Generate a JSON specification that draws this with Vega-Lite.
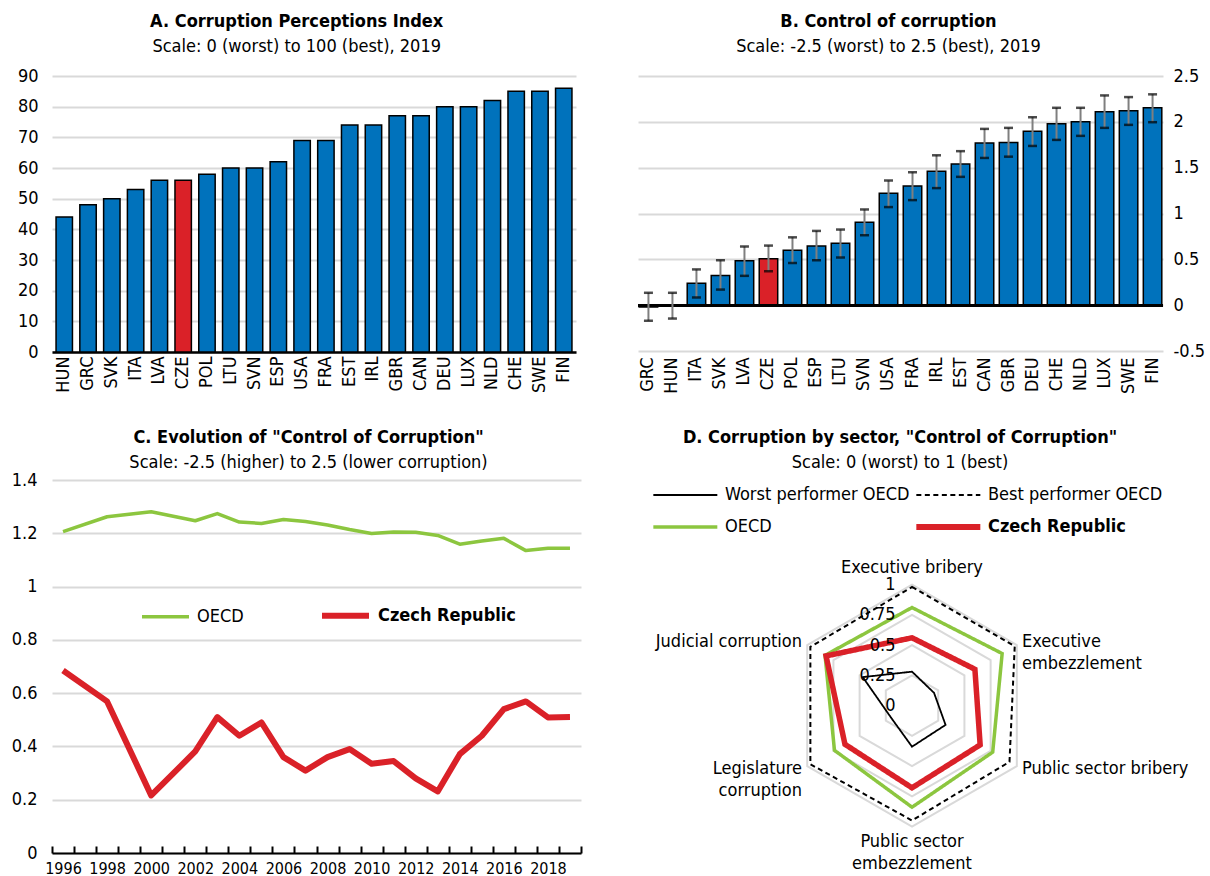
{
 "$schema": "https://vega.github.io/schema/vega-lite/v6.json",
 "background": "white",
 "padding": {"left": 11, "top": 13, "right": 0, "bottom": 0},
 "config": {
  "font": "Liberation Sans Narrow, Arial Narrow, DejaVu Sans Condensed, sans-serif",
  "view": {"stroke": null},
  "axis": {"labelFontSize": 18, "labelColor": "#000000", "gridColor": "#d9d9d9", "gridWidth": 2, "domainColor": "#000000", "tickColor": "#000000"},
  "title": {"fontSize": 18, "fontWeight": "bold", "subtitleFontSize": 18, "color": "#000000", "subtitleColor": "#000000", "anchor": "middle", "subtitlePadding": 7, "offset": 11},
  "legend": {"labelFontSize": 18, "labelColor": "#000000", "padding": 0, "labelLimit": 400},
  "text": {"fontSize": 18}
 },
 "resolve": {
  "scale": {"color": "independent", "strokeWidth": "independent", "strokeDash": "independent"},
  "legend": {"color": "independent", "strokeWidth": "independent", "strokeDash": "independent"}
 },
 "datasets": {
  "cpi": [
   {"country": "HUN", "cpi": 44}, {"country": "GRC", "cpi": 48}, {"country": "SVK", "cpi": 50}, {"country": "ITA", "cpi": 53},
   {"country": "LVA", "cpi": 56}, {"country": "CZE", "cpi": 56}, {"country": "POL", "cpi": 58}, {"country": "LTU", "cpi": 60},
   {"country": "SVN", "cpi": 60}, {"country": "ESP", "cpi": 62}, {"country": "USA", "cpi": 69}, {"country": "FRA", "cpi": 69},
   {"country": "EST", "cpi": 74}, {"country": "IRL", "cpi": 74}, {"country": "GBR", "cpi": 77}, {"country": "CAN", "cpi": 77},
   {"country": "DEU", "cpi": 80}, {"country": "LUX", "cpi": 80}, {"country": "NLD", "cpi": 82}, {"country": "CHE", "cpi": 85},
   {"country": "SWE", "cpi": 85}, {"country": "FIN", "cpi": 86}
  ],
  "wgi": [
   {"country": "GRC", "cc": -0.02, "lo": -0.17, "hi": 0.135},
   {"country": "HUN", "cc": -0.01, "lo": -0.146, "hi": 0.135},
   {"country": "ITA", "cc": 0.24, "lo": 0.084, "hi": 0.39},
   {"country": "SVK", "cc": 0.325, "lo": 0.17, "hi": 0.49},
   {"country": "LVA", "cc": 0.485, "lo": 0.32, "hi": 0.64},
   {"country": "CZE", "cc": 0.507, "lo": 0.37, "hi": 0.65},
   {"country": "POL", "cc": 0.6, "lo": 0.46, "hi": 0.74},
   {"country": "ESP", "cc": 0.646, "lo": 0.49, "hi": 0.81},
   {"country": "LTU", "cc": 0.675, "lo": 0.52, "hi": 0.825},
   {"country": "SVN", "cc": 0.905, "lo": 0.763, "hi": 1.044},
   {"country": "USA", "cc": 1.22, "lo": 1.07, "hi": 1.36},
   {"country": "FRA", "cc": 1.3, "lo": 1.146, "hi": 1.45},
   {"country": "IRL", "cc": 1.46, "lo": 1.277, "hi": 1.635},
   {"country": "EST", "cc": 1.54, "lo": 1.4, "hi": 1.68},
   {"country": "CAN", "cc": 1.77, "lo": 1.606, "hi": 1.923},
   {"country": "GBR", "cc": 1.774, "lo": 1.62, "hi": 1.934},
   {"country": "DEU", "cc": 1.898, "lo": 1.737, "hi": 2.05},
   {"country": "CHE", "cc": 1.978, "lo": 1.803, "hi": 2.153},
   {"country": "NLD", "cc": 2.0, "lo": 1.847, "hi": 2.153},
   {"country": "LUX", "cc": 2.11, "lo": 1.934, "hi": 2.288},
   {"country": "SWE", "cc": 2.12, "lo": 1.967, "hi": 2.27},
   {"country": "FIN", "cc": 2.153, "lo": 1.996, "hi": 2.3}
  ],
  "trend": [
   {"year": 1996, "series": "OECD", "value": 1.206}, {"year": 1998, "series": "OECD", "value": 1.262},
   {"year": 2000, "series": "OECD", "value": 1.281}, {"year": 2002, "series": "OECD", "value": 1.247},
   {"year": 2003, "series": "OECD", "value": 1.274}, {"year": 2004, "series": "OECD", "value": 1.242},
   {"year": 2005, "series": "OECD", "value": 1.237}, {"year": 2006, "series": "OECD", "value": 1.252},
   {"year": 2007, "series": "OECD", "value": 1.244}, {"year": 2008, "series": "OECD", "value": 1.231},
   {"year": 2009, "series": "OECD", "value": 1.214}, {"year": 2010, "series": "OECD", "value": 1.199},
   {"year": 2011, "series": "OECD", "value": 1.205}, {"year": 2012, "series": "OECD", "value": 1.204},
   {"year": 2013, "series": "OECD", "value": 1.192}, {"year": 2014, "series": "OECD", "value": 1.159},
   {"year": 2015, "series": "OECD", "value": 1.171}, {"year": 2016, "series": "OECD", "value": 1.181},
   {"year": 2017, "series": "OECD", "value": 1.135}, {"year": 2018, "series": "OECD", "value": 1.144},
   {"year": 2019, "series": "OECD", "value": 1.144},
   {"year": 1996, "series": "Czech Republic", "value": 0.685}, {"year": 1998, "series": "Czech Republic", "value": 0.569},
   {"year": 2000, "series": "Czech Republic", "value": 0.216}, {"year": 2002, "series": "Czech Republic", "value": 0.381},
   {"year": 2003, "series": "Czech Republic", "value": 0.51}, {"year": 2004, "series": "Czech Republic", "value": 0.44},
   {"year": 2005, "series": "Czech Republic", "value": 0.49}, {"year": 2006, "series": "Czech Republic", "value": 0.36},
   {"year": 2007, "series": "Czech Republic", "value": 0.309}, {"year": 2008, "series": "Czech Republic", "value": 0.36},
   {"year": 2009, "series": "Czech Republic", "value": 0.39}, {"year": 2010, "series": "Czech Republic", "value": 0.335},
   {"year": 2011, "series": "Czech Republic", "value": 0.345}, {"year": 2012, "series": "Czech Republic", "value": 0.28},
   {"year": 2013, "series": "Czech Republic", "value": 0.231}, {"year": 2014, "series": "Czech Republic", "value": 0.371},
   {"year": 2015, "series": "Czech Republic", "value": 0.44}, {"year": 2016, "series": "Czech Republic", "value": 0.54},
   {"year": 2017, "series": "Czech Republic", "value": 0.569}, {"year": 2018, "series": "Czech Republic", "value": 0.509},
   {"year": 2019, "series": "Czech Republic", "value": 0.51}
  ],
  "radar": [
   {"series": "Best performer OECD", "sector": "Executive bribery", "value": 0.98},
   {"series": "Best performer OECD", "sector": "Executive embezzlement", "value": 0.98},
   {"series": "Best performer OECD", "sector": "Public sector bribery", "value": 0.93},
   {"series": "Best performer OECD", "sector": "Public sector embezzlement", "value": 0.95},
   {"series": "Best performer OECD", "sector": "Legislature corruption", "value": 0.97},
   {"series": "Best performer OECD", "sector": "Judicial corruption", "value": 0.97},
   {"series": "Worst performer OECD", "sector": "Executive bribery", "value": 0.28},
   {"series": "Worst performer OECD", "sector": "Executive embezzlement", "value": 0.21},
   {"series": "Worst performer OECD", "sector": "Public sector bribery", "value": 0.32},
   {"series": "Worst performer OECD", "sector": "Public sector embezzlement", "value": 0.34},
   {"series": "Worst performer OECD", "sector": "Legislature corruption", "value": 0.2},
   {"series": "Worst performer OECD", "sector": "Judicial corruption", "value": 0.47},
   {"series": "OECD", "sector": "Executive bribery", "value": 0.81},
   {"series": "OECD", "sector": "Executive embezzlement", "value": 0.86},
   {"series": "OECD", "sector": "Public sector bribery", "value": 0.77},
   {"series": "OECD", "sector": "Public sector embezzlement", "value": 0.84},
   {"series": "OECD", "sector": "Legislature corruption", "value": 0.74},
   {"series": "OECD", "sector": "Judicial corruption", "value": 0.83},
   {"series": "Czech Republic", "sector": "Executive bribery", "value": 0.56},
   {"series": "Czech Republic", "sector": "Executive embezzlement", "value": 0.6},
   {"series": "Czech Republic", "sector": "Public sector bribery", "value": 0.65},
   {"series": "Czech Republic", "sector": "Public sector embezzlement", "value": 0.68},
   {"series": "Czech Republic", "sector": "Legislature corruption", "value": 0.64},
   {"series": "Czech Republic", "sector": "Judicial corruption", "value": 0.82}
  ],
  "rings": [
   {"value": 0.25, "idx": [0, 1, 2, 3, 4, 5]},
   {"value": 0.5, "idx": [0, 1, 2, 3, 4, 5]},
   {"value": 0.75, "idx": [0, 1, 2, 3, 4, 5]},
   {"value": 1, "idx": [0, 1, 2, 3, 4, 5]}
  ],
  "sectors": [
   {"idx": 0, "label": "Executive bribery"},
   {"idx": 1, "label": "Executive\nembezzlement"},
   {"idx": 2, "label": "Public sector bribery"},
   {"idx": 3, "label": "Public sector\nembezzlement"},
   {"idx": 4, "label": "Legislature\ncorruption"},
   {"idx": 5, "label": "Judicial corruption"}
  ]
 },
 "vconcat": [
  {
   "spacing": 60,
   "hconcat": [
    {
     "width": 524, "height": 276,
     "title": {"text": "A. Corruption Perceptions Index", "subtitle": "Scale: 0 (worst) to 100 (best), 2019", "frame": "bounds"},
     "data": {"name": "cpi"},
     "mark": {"type": "bar", "stroke": "#000000", "strokeWidth": 1.5},
     "encoding": {
      "x": {"field": "country", "type": "nominal", "sort": null, "scale": {"paddingInner": 0.31, "paddingOuter": 0.17},
            "axis": {"title": null, "labelAngle": -90, "ticks": false, "domainWidth": 2.5, "labelPadding": 4}},
      "y": {"field": "cpi", "type": "quantitative", "scale": {"domain": [0, 90], "nice": false},
            "axis": {"title": null, "values": [0, 10, 20, 30, 40, 50, 60, 70, 80, 90], "domain": false, "ticks": false, "labelPadding": 14}},
      "color": {"condition": {"test": "datum.country === 'CZE'", "value": "#DA2128"}, "value": "#0072BC"}
     }
    },
    {
     "width": 525, "height": 275,
     "title": {"text": "B. Control of corruption", "subtitle": "Scale: -2.5 (worst) to 2.5 (best), 2019", "frame": "group", "dx": -12},
     "data": {"name": "wgi"},
     "layer": [
      {
       "mark": {"type": "bar", "stroke": "#000000", "strokeWidth": 1.5},
       "encoding": {
        "x": {"field": "country", "type": "nominal", "sort": null, "scale": {"paddingInner": 0.23, "paddingOuter": 0.05},
              "axis": {"title": null, "labelAngle": -90, "ticks": false, "domain": false, "labelPadding": 6}},
        "y": {"field": "cc", "type": "quantitative", "scale": {"domain": [-0.5, 2.5], "nice": false},
              "axis": {"title": null, "orient": "right", "values": [-0.5, 0, 0.5, 1, 1.5, 2, 2.5], "labelExpr": "'' + datum.value", "domain": false, "ticks": false, "labelPadding": 10}},
        "color": {"condition": {"test": "datum.country === 'CZE'", "value": "#DA2128"}, "value": "#0072BC"}
       }
      },
      {
       "mark": {"type": "rule", "color": "#000000", "strokeWidth": 2.5},
       "encoding": {"y": {"datum": 0}}
      },
      {
       "mark": {"type": "rule", "color": "#7f7f7f", "strokeWidth": 2},
       "encoding": {
        "x": {"field": "country", "type": "nominal", "sort": null},
        "y": {"field": "lo", "type": "quantitative"},
        "y2": {"field": "hi"}
       }
      },
      {
       "mark": {"type": "tick", "color": "#000000", "thickness": 2.5, "size": 9},
       "encoding": {
        "x": {"field": "country", "type": "nominal", "sort": null},
        "y": {"field": "lo", "type": "quantitative"}
       }
      },
      {
       "mark": {"type": "tick", "color": "#000000", "thickness": 2.5, "size": 9},
       "encoding": {
        "x": {"field": "country", "type": "nominal", "sort": null},
        "y": {"field": "hi", "type": "quantitative"}
       }
      }
     ]
    }
   ]
  },
  {
   "spacing": 65,
   "resolve": {
    "scale": {"color": "independent", "strokeWidth": "independent", "strokeDash": "independent"},
    "legend": {"color": "independent", "strokeWidth": "independent", "strokeDash": "independent"}
   },
   "hconcat": [
    {
     "width": 529, "height": 373,
     "title": {"text": "C. Evolution of \"Control of Corruption\"", "subtitle": "Scale: -2.5 (higher) to 2.5 (lower corruption)", "frame": "group", "dx": -8, "offset": -1},
     "data": {"name": "trend"},
     "mark": {"type": "line", "strokeJoin": "round"},
     "encoding": {
      "x": {"field": "year", "type": "ordinal",
            "scale": {"type": "band", "domain": [1996, 1997, 1998, 1999, 2000, 2001, 2002, 2003, 2004, 2005, 2006, 2007, 2008, 2009, 2010, 2011, 2012, 2013, 2014, 2015, 2016, 2017, 2018, 2019], "padding": 0},
            "axis": {"title": null, "tickBand": "extent", "labelAngle": 0, "labelFontSize": 16, "labelExpr": "datum.value % 2 == 0 ? datum.label : ''", "tickSize": -7, "tickWidth": 2, "domainWidth": 2, "labelPadding": 14}},
      "y": {"field": "value", "type": "quantitative", "scale": {"domain": [0, 1.4], "nice": false},
            "axis": {"title": null, "values": [0, 0.2, 0.4, 0.6, 0.8, 1, 1.2, 1.4], "labelExpr": "'' + datum.value", "domain": false, "ticks": false, "labelPadding": 15}},
      "color": {"field": "series", "type": "nominal", "scale": {"domain": ["OECD", "Czech Republic"], "range": ["#8CC63F", "#DA2128"]},
                "legend": {"title": null, "orient": "none", "legendX": 88, "legendY": 109, "direction": "horizontal", "symbolType": "stroke", "symbolSize": 2209, "labelOffset": 6, "columnPadding": 66, "labelFontWeight": {"expr": "datum.label == 'Czech Republic' ? 'bold' : 'normal'"}}},
      "strokeWidth": {"field": "series", "type": "nominal", "scale": {"domain": ["OECD", "Czech Republic"], "range": [3.5, 6]},
                "legend": {"title": null, "orient": "none", "legendX": 88, "legendY": 109, "direction": "horizontal", "symbolType": "stroke", "symbolSize": 2209, "labelOffset": 6, "columnPadding": 66, "labelFontWeight": {"expr": "datum.label == 'Czech Republic' ? 'bold' : 'normal'"}}}
     }
    },
    {
     "width": 520, "height": 393.5,
     "title": {"text": "D. Corruption by sector, \"Control of Corruption\"", "subtitle": "Scale: 0 (worst) to 1 (best)", "frame": "group", "dx": -7, "offset": 8},
     "encoding": {
      "x": {"field": "px", "type": "quantitative", "scale": {"domain": [-2.19, 2.107], "nice": false, "zero": false}, "axis": null},
      "y": {"field": "py", "type": "quantitative", "scale": {"domain": [-1.388, 1.864], "nice": false, "zero": false},
            "axis": {"title": null, "values": [0, 0.25, 0.5, 0.75, 1], "labelExpr": "'' + datum.value", "offset": -248, "domain": false, "ticks": false, "grid": false, "labelPadding": 0, "zindex": 1}}
     },
     "layer": [
      {
       "data": {"name": "rings"},
       "transform": [
        {"flatten": ["idx"]},
        {"calculate": "datum.value * sin(datum.idx * PI / 3)", "as": "px"},
        {"calculate": "datum.value * cos(datum.idx * PI / 3)", "as": "py"}
       ],
       "mark": {"type": "line", "interpolate": "linear-closed", "color": "#d9d9d9", "strokeWidth": 2},
       "encoding": {"detail": {"field": "value", "type": "nominal"}, "order": {"field": "idx", "type": "quantitative"}}
      },
      {
       "data": {"name": "radar"},
       "transform": [
        {"calculate": "indexof(['Executive bribery','Executive embezzlement','Public sector bribery','Public sector embezzlement','Legislature corruption','Judicial corruption'], datum.sector)", "as": "idx"},
        {"calculate": "datum.value * sin(datum.idx * PI / 3)", "as": "px"},
        {"calculate": "datum.value * cos(datum.idx * PI / 3)", "as": "py"}
       ],
       "mark": {"type": "line", "interpolate": "linear-closed"},
       "encoding": {
        "order": {"field": "idx", "type": "quantitative"},
        "color": {"field": "series", "type": "nominal",
                  "scale": {"domain": ["Worst performer OECD", "Best performer OECD", "OECD", "Czech Republic"], "range": ["#000000", "#000000", "#8CC63F", "#DA2128"]},
                  "legend": {"title": null, "orient": "none", "legendX": 8, "legendY": 6, "columns": 2, "direction": "horizontal", "symbolType": "M-1,0H5", "symbolSize": 455, "labelOffset": 52, "columnPadding": -6, "rowPadding": 11,
                             "encode": {"symbols": {"update": {"strokeWidth": {"signal": "datum.value == 'Czech Republic' ? 6 : datum.value == 'OECD' ? 3.5 : 2"}}}},
                             "labelFontWeight": {"expr": "datum.label == 'Czech Republic' ? 'bold' : 'normal'"}}},
        "strokeDash": {"field": "series", "type": "nominal",
                  "scale": {"domain": ["Worst performer OECD", "Best performer OECD", "OECD", "Czech Republic"], "range": [[1, 0], [5, 3.5], [1, 0], [1, 0]]},
                  "legend": {"title": null, "orient": "none", "legendX": 8, "legendY": 6, "columns": 2, "direction": "horizontal", "symbolType": "M-1,0H5", "symbolSize": 455, "labelOffset": 52, "columnPadding": -6, "rowPadding": 11,
                             "encode": {"symbols": {"update": {"strokeWidth": {"signal": "datum.value == 'Czech Republic' ? 6 : datum.value == 'OECD' ? 3.5 : 2"}}}},
                             "labelFontWeight": {"expr": "datum.label == 'Czech Republic' ? 'bold' : 'normal'"}}},
        "strokeWidth": {"condition": [
                          {"test": "datum.series === 'Czech Republic'", "value": 5.5},
                          {"test": "datum.series === 'OECD'", "value": 3.5},
                          {"test": "datum.series === 'Best performer OECD'", "value": 2}
                        ], "value": 1.8}
       }
      },
      {
       "data": {"name": "sectors"},
       "transform": [
        {"filter": "datum.idx == 0"},
        {"calculate": "1.06 * sin(datum.idx * PI / 3)", "as": "px"},
        {"calculate": "1.06 * cos(datum.idx * PI / 3)", "as": "py"}
       ],
       "mark": {"type": "text", "align": "center", "baseline": "bottom", "fontSize": 18, "lineBreak": "\n", "lineHeight": 22},
       "encoding": {"text": {"field": "label"}}
      },
      {
       "data": {"name": "sectors"},
       "transform": [
        {"filter": "datum.idx == 3"},
        {"calculate": "1.05 * sin(datum.idx * PI / 3)", "as": "px"},
        {"calculate": "1.05 * cos(datum.idx * PI / 3)", "as": "py"}
       ],
       "mark": {"type": "text", "align": "center", "baseline": "top", "fontSize": 18, "lineBreak": "\n", "lineHeight": 22},
       "encoding": {"text": {"field": "label"}}
      },
      {
       "data": {"name": "sectors"},
       "transform": [
        {"filter": "datum.idx == 1 || datum.idx == 2"},
        {"calculate": "1.05 * sin(datum.idx * PI / 3)", "as": "px"},
        {"calculate": "1.05 * cos(datum.idx * PI / 3)", "as": "py"}
       ],
       "mark": {"type": "text", "align": "left", "baseline": "middle", "fontSize": 18, "lineBreak": "\n", "lineHeight": 22},
       "encoding": {"text": {"field": "label"}}
      },
      {
       "data": {"name": "sectors"},
       "transform": [
        {"filter": "datum.idx == 4 || datum.idx == 5"},
        {"calculate": "1.05 * sin(datum.idx * PI / 3)", "as": "px"},
        {"calculate": "1.05 * cos(datum.idx * PI / 3)", "as": "py"}
       ],
       "mark": {"type": "text", "align": "right", "baseline": "middle", "fontSize": 18, "lineBreak": "\n", "lineHeight": 22},
       "encoding": {"text": {"field": "label"}}
      }
     ]
    }
   ]
  }
 ],
 "spacing": 35
}
